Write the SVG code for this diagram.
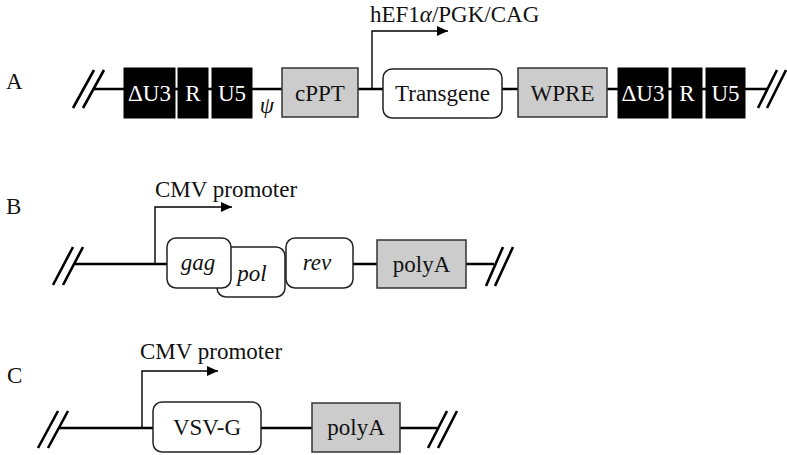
<svg xmlns="http://www.w3.org/2000/svg" width="787" height="455" viewBox="0 0 787 455">
  <defs>
    <marker id="arrow" markerUnits="userSpaceOnUse" markerWidth="12" markerHeight="12" viewBox="0 0 12 12" refX="11" refY="6" orient="auto">
      <path d="M0,1 L11,6 L0,11 Z" fill="#000"/>
    </marker>
    <style>
      text { font-family: "Liberation Serif", "Times New Roman", serif; font-size: 23px; fill: #111; }
      .c { text-anchor: middle; }
      .w { fill: #fff; }
      .it { font-style: italic; }
      .backbone { stroke: #000; stroke-width: 2.4; fill: none; }
      .cut { stroke: #000; stroke-width: 2.6; fill: none; }
      .prom { stroke: #000; stroke-width: 1.4; fill: none; marker-end: url(#arrow); }
      .ltr { fill: #000; stroke: #000; stroke-width: 1; }
      .grey { fill: #cccccc; stroke: #333; stroke-width: 1.5; }
      .gene { fill: #fff; stroke: #222; stroke-width: 1.5; }
    </style>
  </defs>
  <rect width="787" height="455" fill="#fff"/>

  <!-- panel letters -->
  <text x="6" y="89">A</text>
  <text x="6" y="214">B</text>
  <text x="7" y="383">C</text>

  <!-- backbones, break marks and promoter arrows -->
  <g id="connectors">
    <line class="backbone" x1="93" y1="89" x2="768" y2="89"/>
    <path class="cut" d="M73,108 L94,70 M83,108 L104,70"/>
    <path class="cut" d="M758,108 L777,70 M767,108 L786,70"/>
    <path class="prom" d="M372,89 V31 H448"/>

    <line class="backbone" x1="74" y1="264" x2="494" y2="264"/>
    <path class="cut" d="M53,285 L73,247 M63,285 L83,247"/>
    <path class="cut" d="M486,286 L503,247 M495,286 L513,247"/>
    <path class="prom" d="M155,264 V207 H232"/>

    <line class="backbone" x1="59" y1="428" x2="437" y2="428"/>
    <path class="cut" d="M38,448 L58,411 M48,448 L68,411"/>
    <path class="cut" d="M428,448 L447,411 M438,448 L457,411"/>
    <path class="prom" d="M142,428 V371 H218"/>
  </g>

  <!-- A: transfer vector -->
  <g id="a-ltr5-u3"><rect class="ltr" x="124" y="68" width="51" height="50"/><text class="c w" x="149.5" y="101">ΔU3</text></g>
  <g id="a-ltr5-r"><rect class="ltr" x="178" y="68" width="30" height="50"/><text class="c w" x="193" y="101">R</text></g>
  <g id="a-ltr5-u5"><rect class="ltr" x="212" y="68" width="40" height="50"/><text class="c w" x="232" y="101">U5</text></g>
  <g id="a-psi"><text class="c it" x="267" y="113">ψ</text></g>
  <g id="a-cppt"><rect class="grey" x="282" y="68" width="76" height="49"/><text class="c" x="320" y="101">cPPT</text></g>
  <g id="a-promoter"><text x="370" y="22">hEF1<tspan class="it">α</tspan>/PGK/CAG</text></g>
  <g id="a-transgene"><rect class="gene" x="383" y="69" width="119" height="49" rx="9"/><text class="c" x="442.5" y="101">Transgene</text></g>
  <g id="a-wpre"><rect class="grey" x="518" y="68" width="89" height="49"/><text class="c" x="562.5" y="101">WPRE</text></g>
  <g id="a-ltr3-u3"><rect class="ltr" x="618" y="68" width="50" height="50"/><text class="c w" x="643" y="101">ΔU3</text></g>
  <g id="a-ltr3-r"><rect class="ltr" x="672" y="68" width="30" height="50"/><text class="c w" x="687" y="101">R</text></g>
  <g id="a-ltr3-u5"><rect class="ltr" x="706" y="68" width="39" height="50"/><text class="c w" x="725.5" y="101">U5</text></g>

  <!-- B: packaging plasmid -->
  <g id="b-promoter"><text x="155" y="197">CMV promoter</text></g>
  <g id="b-pol"><rect class="gene" x="217" y="247" width="68" height="50" rx="9"/><text class="c it" x="252" y="281">pol</text></g>
  <g id="b-gag"><rect class="gene" x="167" y="238" width="64" height="50" rx="9"/><text class="c it" x="198" y="270">gag</text></g>
  <g id="b-rev"><rect class="gene" x="286" y="238" width="67" height="50" rx="9"/><text class="c it" x="317" y="270">rev</text></g>
  <g id="b-polya"><rect class="grey" x="377" y="240" width="89" height="48"/><text class="c" x="421.5" y="272">polyA</text></g>

  <!-- C: envelope plasmid -->
  <g id="c-promoter"><text x="140" y="359">CMV promoter</text></g>
  <g id="c-vsvg"><rect class="gene" x="153" y="402" width="108" height="50" rx="9"/><text class="c" x="207" y="435">VSV-G</text></g>
  <g id="c-polya"><rect class="grey" x="312" y="403" width="88" height="49"/><text class="c" x="356" y="435">polyA</text></g>
</svg>
